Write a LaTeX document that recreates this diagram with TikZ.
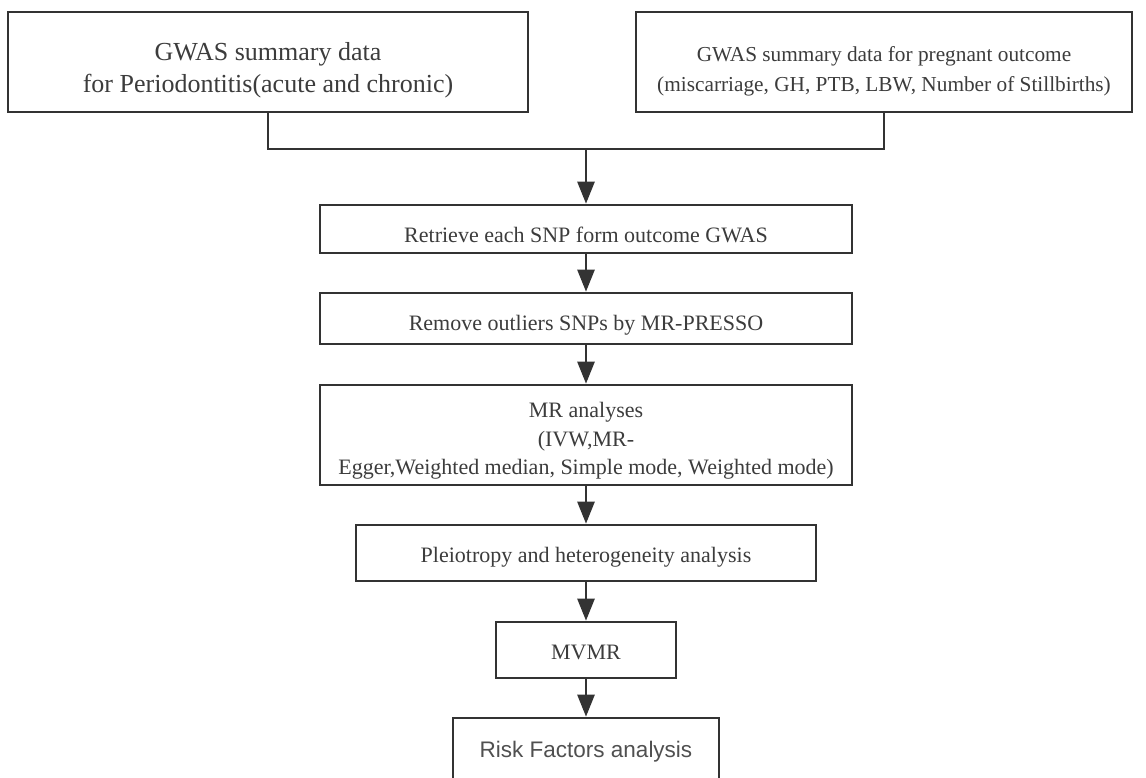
\documentclass[tikz,border=0pt]{standalone}
\usepackage{fontspec}
\setmainfont{Liberation Serif}
\newfontfamily\riskfont{Liberation Sans}
\usetikzlibrary{arrows.meta}
\definecolor{linec}{HTML}{333333}
\definecolor{textc}{HTML}{3C3C3C}
\newcommand{\dn}[1]{\rule{0pt}{#1pt}}
\tikzset{
  box/.style={draw=linec, line width=2.6pt, fill=white, rectangle, inner sep=0pt,
    align=center, text=textc, font=\fontsize{22}{28.5}\selectfont},
  conn/.style={draw=linec, line width=2.6pt},
  arr/.style={conn, -{Triangle[length=22pt,width=17pt]}},
}
\begin{document}
\begin{tikzpicture}[x=1pt,y=-1pt]
\clip (0,0) rectangle (1146,778);
\fill[white] (0,0) rectangle (1146,778);
\node[box, minimum width=520pt, minimum height=100pt, font=\fontsize{26}{32}\selectfont] (L) at (268,62)
  {\dn{34.5}GWAS summary data\\for Periodontitis(acute and chronic)};
\node[box, minimum width=496pt, minimum height=100pt, font=\fontsize{21.3}{30}\selectfont] (R) at (884,62)
  {\dn{33}GWAS summary data for pregnant outcome\\(miscarriage, GH, PTB, LBW, Number of Stillbirths)};
\node[box, minimum width=532pt, minimum height=48pt] (ret) at (586,229) {\dn{26.5}Retrieve each SNP form outcome GWAS};
\node[box, minimum width=532pt, minimum height=51pt] (rem) at (586,318.5) {\dn{29.5}Remove outliers SNPs by MR-PRESSO};
\node[box, minimum width=532pt, minimum height=100pt] (mr) at (586,435)
  {\dn{27.5}MR analyses\\(IVW,MR-\\Egger,Weighted median, Simple mode, Weighted mode)};
\node[box, minimum width=460pt, minimum height=56pt] (ple) at (586,553) {\dn{23.5}Pleiotropy and heterogeneity analysis};
\node[box, minimum width=180pt, minimum height=56pt] (mv) at (586,650) {\dn{19.6}MVMR};
\node[box, minimum width=266pt, minimum height=68pt, font=\riskfont\fontsize{22.5}{27}\selectfont, text=textc!90] (risk) at (586,752) {Risk Factors analysis};
\coordinate (j) at (586,149);
\draw[conn] (L.south) |- (j) -| (R.south);
\draw[arr] (j) -- (ret.north);
\draw[arr] (ret.south) -- (rem.north);
\draw[arr] (rem.south) -- (mr.north);
\draw[arr] (mr.south) -- (ple.north);
\draw[arr] (ple.south) -- (mv.north);
\draw[arr] (mv.south) -- (risk.north);
\end{tikzpicture}
\end{document}
